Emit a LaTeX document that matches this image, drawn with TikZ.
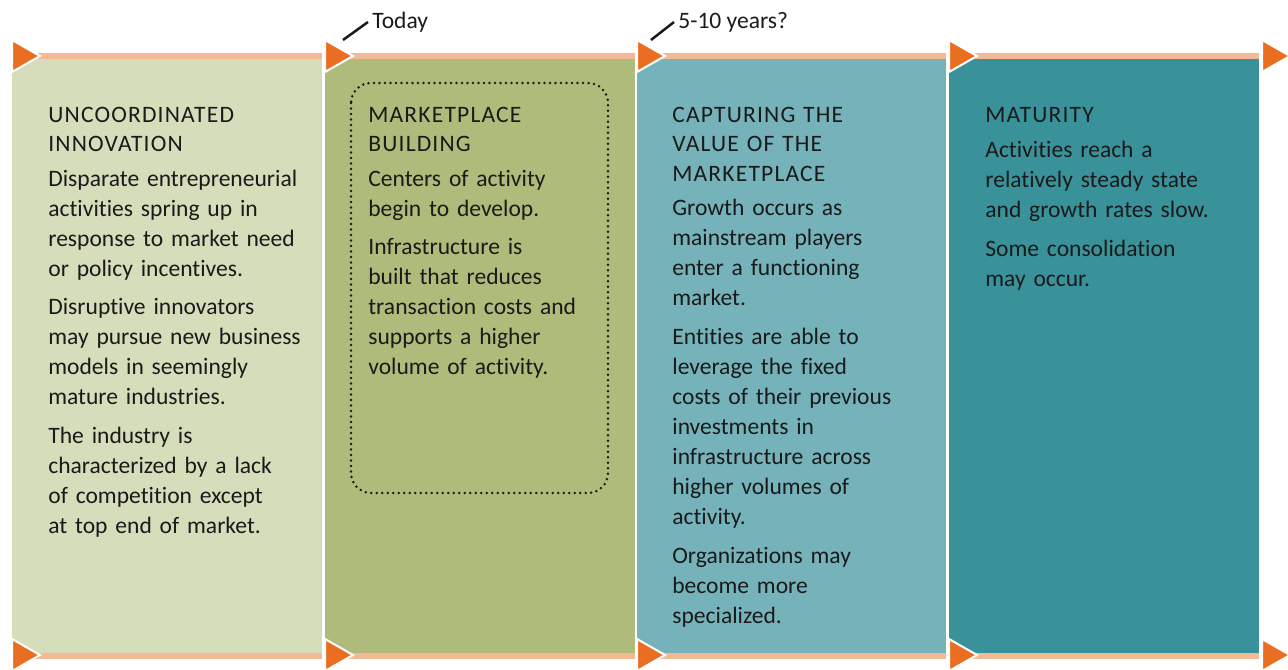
\documentclass[tikz,border=0pt]{standalone}
\usepackage{fontspec}
\setmainfont{Carlito}[Ligatures=NoCommon]

\definecolor{stageone}{HTML}{D6DDBB}
\definecolor{stagetwo}{HTML}{AFBB7A}
\definecolor{stagethree}{HTML}{75B2BA}
\definecolor{stagefour}{HTML}{39929A}
\definecolor{markorange}{HTML}{E96E22}
\definecolor{peach}{HTML}{F3B994}
\definecolor{inkblack}{HTML}{1A1A1A}

\newcommand{\stagehead}[1]{{\addfontfeatures{LetterSpace=5}#1}}

\tikzset{
  bar/.style={fill=peach, draw=none},
  marker/.style={fill=markorange, draw=white, line width=0.4mm, line join=miter},
  stagetext/.style={anchor=base west, inner sep=0, text width=54mm, align=left,
    text=inkblack, font=\fontsize{13.4}{17.07}\selectfont},
  ticklabel/.style={anchor=west, inner sep=0.8mm, text=inkblack,
    font=\fontsize{13.4}{17.07}\selectfont},
  tick/.style={line width=0.5mm, draw=inkblack},
  dotframe/.style={draw=inkblack, rounded corners=4mm, line width=0.55mm,
    dash pattern=on 0pt off 1.1mm, line cap=round}
}

\begin{document}
\begin{tikzpicture}[x=0.2mm, y=-0.2mm]
  \useasboundingbox (0,0) rectangle (1288,669);

  % stage panels
  \fill[stageone] (12,58) rectangle (322,653);
  \fill[stagetwo] (325,58) rectangle (635,653);
  \fill[stagethree] (637,58) rectangle (946,653);
  \fill[stagefour] (949,58) rectangle (1259,653);

  % peach rules, top and bottom
  \fill[bar] (12,53) rectangle (322,59);
  \fill[bar] (325,53) rectangle (635,59);
  \fill[bar] (637,53) rectangle (946,59);
  \fill[bar] (949,53) rectangle (1259,59);
  \fill[bar] (12,653) rectangle (322,659);
  \fill[bar] (325,653) rectangle (635,659);
  \fill[bar] (637,653) rectangle (946,659);
  \fill[bar] (949,653) rectangle (1259,659);

  % orange markers
  \filldraw[marker] (12,40) -- (12,72) -- (40,56) -- cycle;
  \filldraw[marker] (325,40) -- (325,72) -- (353,56) -- cycle;
  \filldraw[marker] (637,40) -- (637,72) -- (665,56) -- cycle;
  \filldraw[marker] (949,40) -- (949,72) -- (977,56) -- cycle;
  \filldraw[marker] (1262,40) -- (1262,72) -- (1290,56) -- cycle;
  \filldraw[marker] (12,639) -- (12,671) -- (40,655) -- cycle;
  \filldraw[marker] (325,639) -- (325,671) -- (353,655) -- cycle;
  \filldraw[marker] (637,639) -- (637,671) -- (665,655) -- cycle;
  \filldraw[marker] (949,639) -- (949,671) -- (977,655) -- cycle;
  \filldraw[marker] (1262,639) -- (1262,671) -- (1290,655) -- cycle;

  % time labels
  \coordinate (todaytick) at (343,40);
  \node[ticklabel] (today) at (368,22) {Today};
  \draw[tick] (todaytick) -- (today.west);
  \coordinate (latertick) at (651,40);
  \node[ticklabel] (later) at (674,22) {5-10 years?};
  \draw[tick] (latertick) -- (later.west);

  % current focus
  \draw[dotframe] (351,83) rectangle (608,493);

  % stage texts
  \node[stagetext] (uncoord) at (48,122) {\stagehead{UNCOORDINATED}\\\stagehead{INNOVATION}\\[2.3pt]
    Disparate entrepreneurial\\activities spring up in\\response to market need\\or policy incentives.\\[5.1pt]
    Disruptive innovators\\may pursue new business\\models in seemingly\\mature industries.\\[5.1pt]
    The industry is\\characterized by a lack\\of competition except\\at top end of market.};
  \node[stagetext] (building) at (368,122) {\stagehead{MARKETPLACE}\\\stagehead{BUILDING}\\[2.3pt]
    Centers of activity\\begin to develop.\\[5.1pt]
    Infrastructure is\\built that reduces\\transaction costs and\\supports a higher\\volume of activity.};
  \node[stagetext] (capturing) at (672,122) {\stagehead{CAPTURING THE}\\\stagehead{VALUE OF THE}\\\stagehead{MARKETPLACE}\\[2pt]
    Growth occurs as\\mainstream players\\enter a functioning\\market.\\[5.1pt]
    Entities are able to\\leverage the fixed\\costs of their previous\\investments in\\infrastructure across\\higher volumes of\\activity.\\[5.1pt]
    Organizations may\\become more\\specialized.};
  \node[stagetext] (maturity) at (985,122) {\stagehead{MATURITY}\\[3pt]
    Activities reach a\\relatively steady state\\and growth rates slow.\\[5.1pt]
    Some consolidation\\may occur.};
\end{tikzpicture}
\end{document}
